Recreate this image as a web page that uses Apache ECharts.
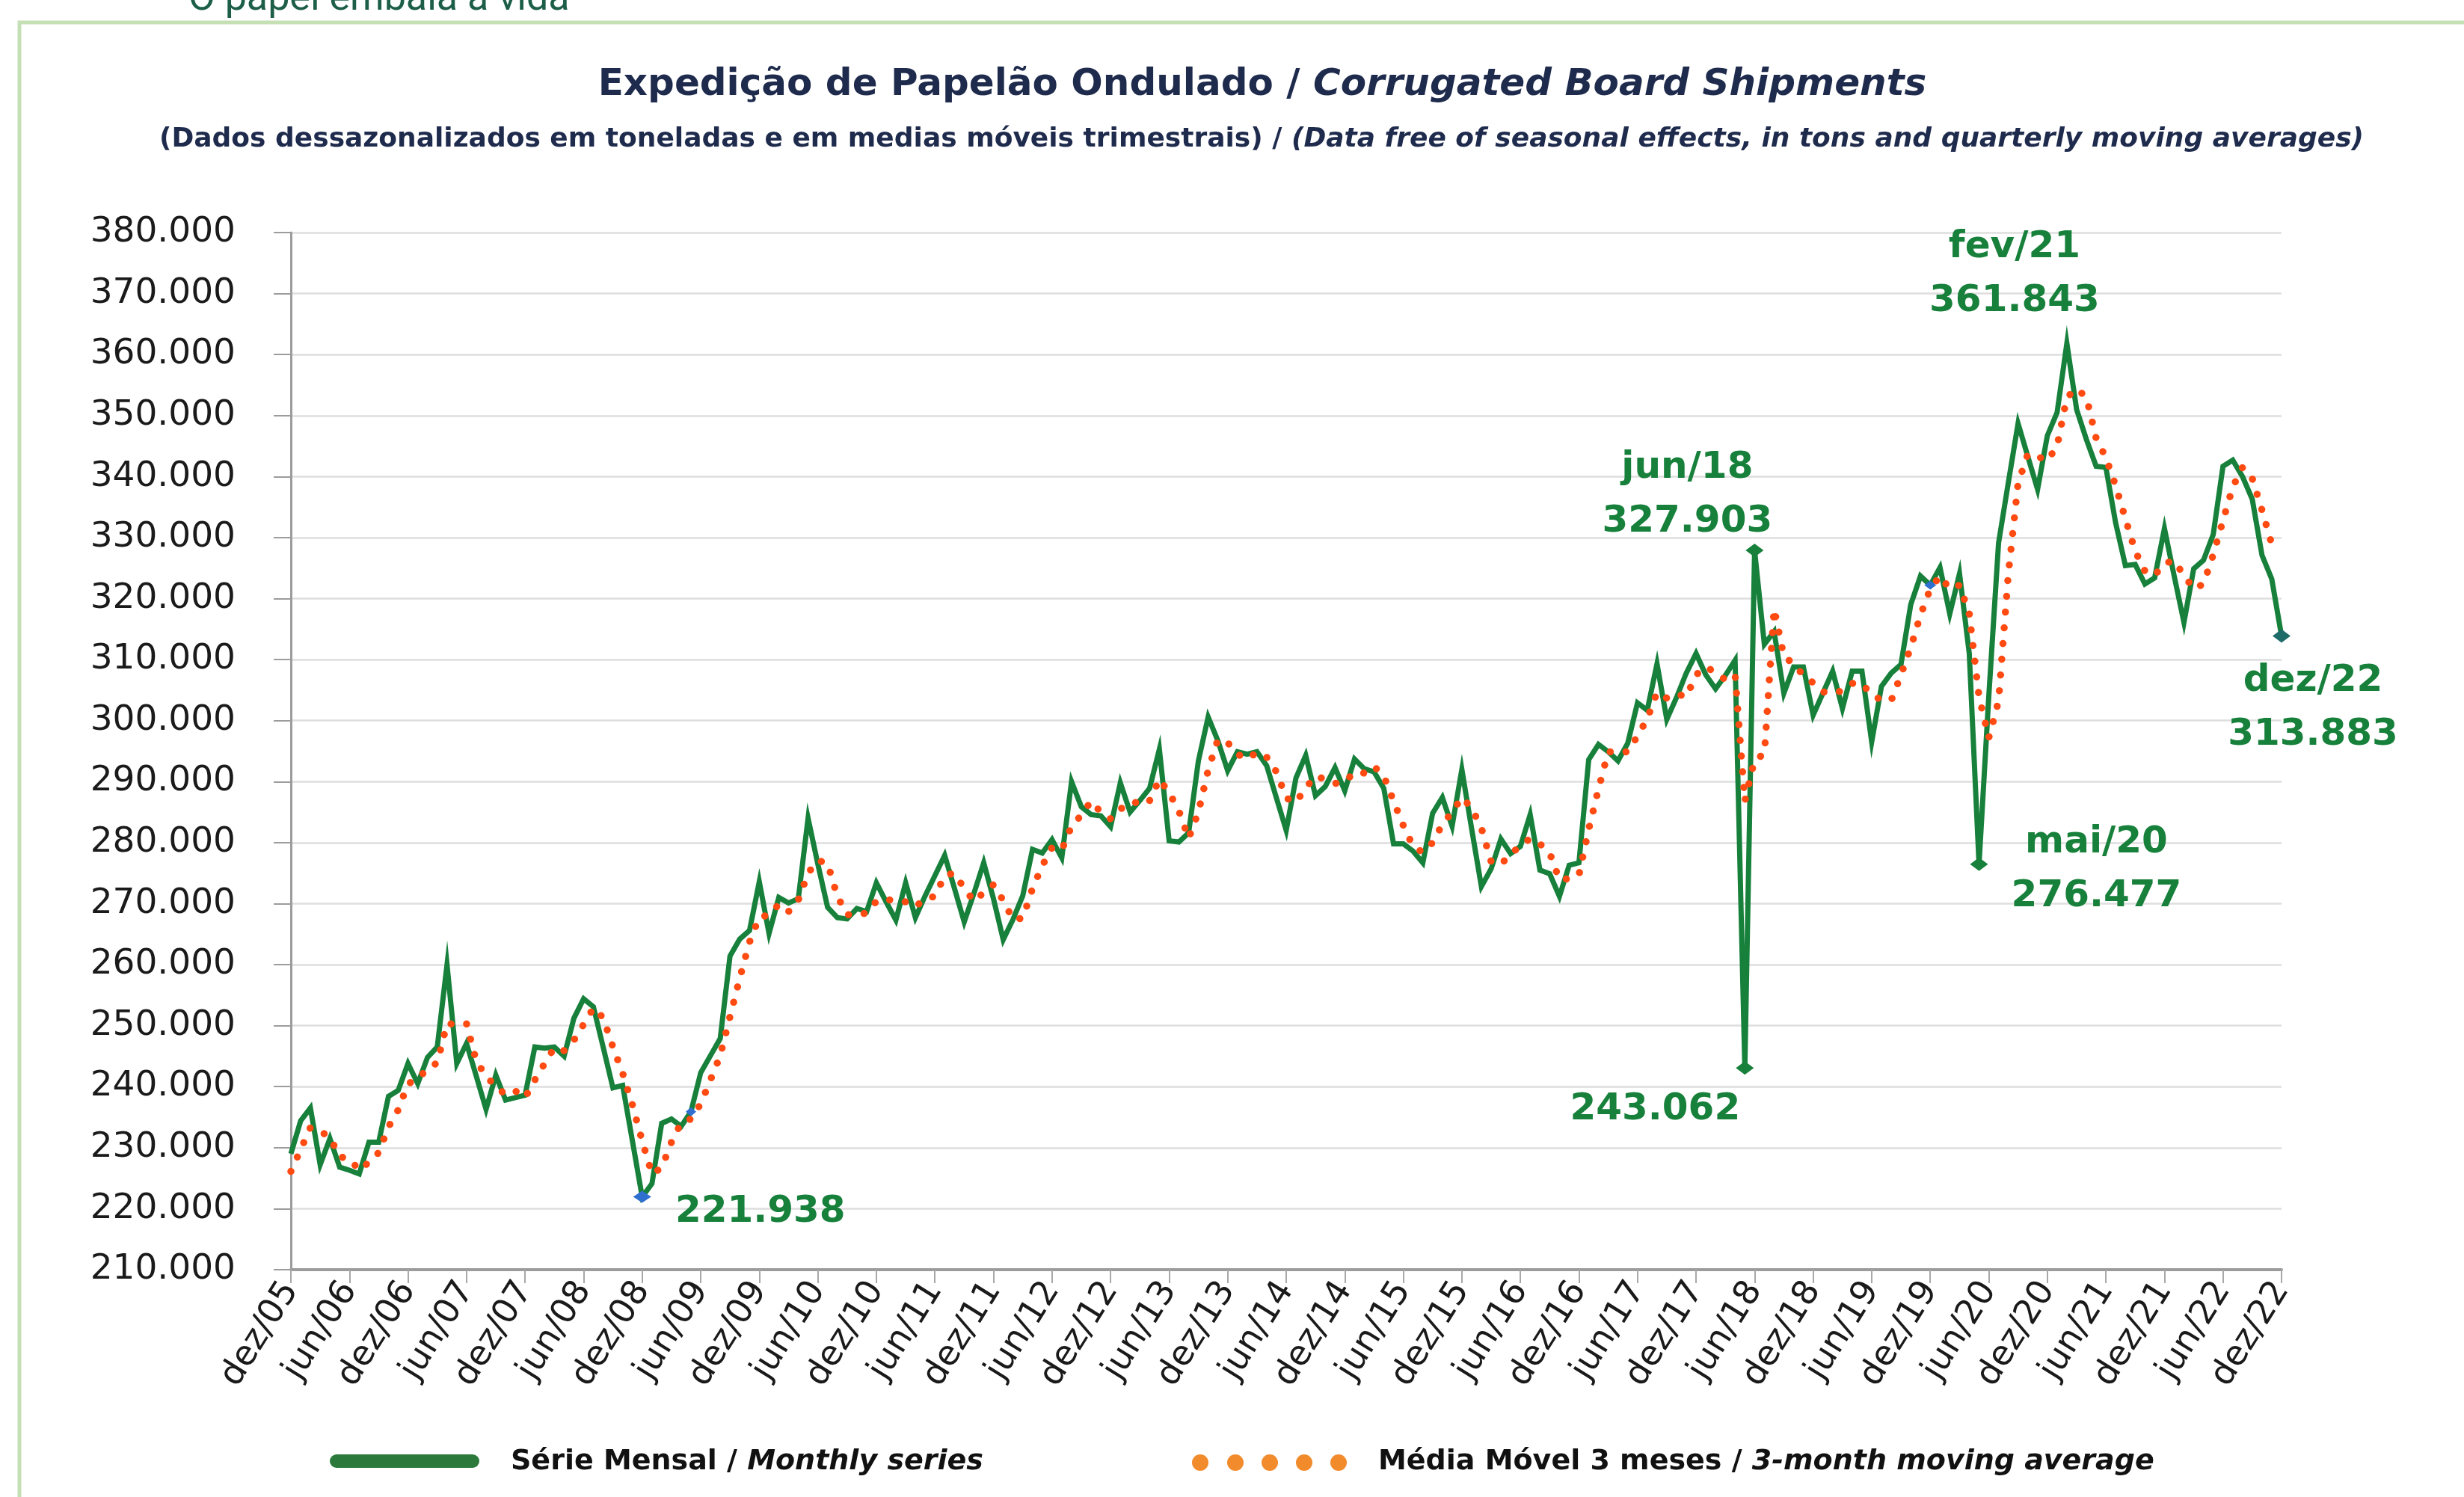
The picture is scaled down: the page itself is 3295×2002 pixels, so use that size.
<!DOCTYPE html>
<html>
<head>
    <meta charset="utf-8">
    <script src="https://cdn.jsdelivr.net/npm/echarts@6/dist/echarts.min.js"></script>
    <style>
        html, body { margin: 0; padding: 0; background: #fff; }
    </style>
</head>
<body>
    <div id="main" style="width:3295px; height:2002px;"></div>
    <script type="text/javascript">
        // months dez/05 .. dez/22, values in thousand tons
        var monthNames = ['jan', 'fev', 'mar', 'abr', 'mai', 'jun', 'jul', 'ago', 'set', 'out', 'nov', 'dez'];
        var firstYear = 2005, firstMonth = 11, monthCount = 205;

        var monthly = [
            229.0, 234.4, 236.5, 227.2, 231.5, 226.8, 226.3, 225.7, 230.9, 230.9, 238.4, 239.4,
            243.8, 240.5, 244.8, 246.5, 260.0, 243.8, 247.1, 241.7, 236.3, 241.9, 237.8, 238.2,
            238.6, 246.5, 246.3, 246.5, 245.0, 251.2, 254.4, 253.1, 246.5, 239.8, 240.2, 231.1,
            221.938, 224.1, 234.0, 234.7, 233.5, 235.9, 242.3, 245.1, 247.9, 261.4, 264.2, 265.6,
            273.6, 265.1, 271.0, 270.1, 270.8, 284.0, 276.5, 269.4, 267.7, 267.5, 269.2, 268.7,
            273.4, 270.3, 267.3, 273.4, 267.7, 271.3, 274.6, 277.9, 272.5, 267.0, 271.7, 276.7,
            270.8, 264.1, 267.4, 271.3, 278.9, 278.3, 280.5, 277.5, 290.0, 285.9, 284.6, 284.4,
            282.6, 289.8, 285.0, 286.9, 288.9, 295.3, 280.3, 280.1, 281.6, 293.4, 300.6, 296.7,
            291.8, 294.9, 294.5, 294.9, 292.6, 287.3, 282.0, 290.6, 294.3, 287.7, 289.2, 292.3,
            288.5, 293.7, 292.1, 291.6, 288.9, 279.8, 279.8, 278.6, 276.7, 284.8, 287.4, 282.7,
            292.0, 282.3, 272.8, 275.7, 280.6, 278.2, 279.4, 284.6, 275.5, 274.9, 271.2, 276.3,
            276.7, 293.6, 296.1, 294.9, 293.4, 296.3, 302.9, 301.7, 309.3, 300.2, 303.8, 307.8,
            311.0, 307.5, 305.2, 307.4, 309.9, 243.062, 327.903, 312.5, 314.6, 304.5, 308.8, 308.8,
            300.9, 304.5, 308.1, 302.0, 308.1, 308.1, 296.5, 305.6, 307.8, 309.2, 319.0, 323.7,
            322.2, 325.1, 317.5, 324.1, 311.0, 276.477, 304.0, 329.1, 339.0, 348.7, 343.3, 337.9,
            346.7, 350.5, 361.843, 351.0, 346.1, 341.7, 341.5, 332.4, 325.4, 325.6, 322.4, 323.4,
            331.5, 323.7, 316.1, 324.9, 326.3, 330.5, 341.7, 342.7, 340.0, 336.3, 327.1, 323.2,
            313.883
        ];

        var movingAvg = [
            226.1, 229.7, 233.3, 232.7, 231.7, 228.5, 228.2, 226.3, 227.6, 229.2, 233.4, 236.2,
            240.5, 241.2, 243.0, 243.9, 250.4, 250.1, 250.3, 244.2, 241.7, 240.0, 238.7, 239.3,
            238.2, 241.1, 243.8, 246.4, 245.9, 247.6, 250.2, 252.9, 251.3, 246.5, 242.2, 237.0,
            231.1, 225.7, 226.7, 230.9, 234.1, 234.7, 237.2, 241.1, 245.1, 251.5, 257.8, 263.7,
            267.8, 268.1, 269.9, 268.7, 270.6, 275.0, 277.1, 276.6, 271.2, 268.2, 268.1, 268.5,
            270.4, 270.8, 270.3, 270.3, 269.5, 270.8, 271.2, 274.6, 275.0, 272.5, 270.4, 271.8,
            273.1, 270.5, 267.4, 267.6, 272.5, 276.2, 279.2, 278.8, 282.7, 284.5, 286.8, 285.0,
            283.9, 285.6, 285.8, 287.2, 286.9, 290.4, 288.2, 285.2, 280.7, 285.0, 291.9, 296.9,
            296.4, 294.5, 293.7, 294.8, 294.0, 291.6, 287.3, 286.6, 289.0, 290.9, 290.4, 289.7,
            290.0, 291.5, 291.4, 292.5, 290.9, 286.8, 282.8, 279.4, 278.4, 280.0, 283.0, 285.0,
            287.4, 285.7, 282.4, 276.9, 276.4, 278.2, 279.4, 280.7, 279.8, 278.3, 273.9, 274.1,
            274.7, 282.2, 288.8, 294.9, 294.8, 294.9, 297.5, 300.3, 304.6, 303.7, 304.4, 303.9,
            307.5, 308.8, 307.9, 306.7, 307.5, 286.8, 293.6, 294.5, 318.3, 310.5, 309.3, 307.4,
            306.2, 304.7, 304.5, 304.9, 306.1, 306.1, 304.2, 303.4, 303.3, 307.5, 312.0, 317.3,
            321.6, 323.7, 321.6, 322.2, 317.5, 303.9, 297.2, 303.2, 324.0, 338.9, 343.7, 343.3,
            342.6, 345.0, 353.0, 354.4, 353.0, 346.3, 343.1, 338.5, 333.1, 327.8, 324.5, 323.8,
            325.8, 326.2, 323.8, 321.6, 322.4, 327.2, 332.8, 338.3, 341.5, 339.7, 334.5, 328.9,
            '-'
        ];

        // highlighted months: with date + value, value only, plain marker
        var notedWithDate = [150, 173, 182, 204];
        var notedValueOnly = [36, 149];
        var plainMarkers = [41, 168];

        var categories = [];
        for (var k = 0; k < monthCount; k++) {
            var m = (firstMonth + k) % 12;
            var y = firstYear + Math.floor((firstMonth + k) / 12);
            categories.push(monthNames[m] + '/' + String(y).slice(2));
        }

        // label layout (offsets from the point, px) and marker looks
        var labelOffset = {
            36: [158, 20], 149: [-120, 56], 150: [-90, -74],
            173: [157, 7], 182: [-70, -92], 204: [42, 97]
        };
        var markerLook = {
            36: { symbol: 'diamond', size: [24, 16], color: '#2f6fd0' },
            41: { symbol: 'diamond', size: [14, 12], color: '#2f6fd0' },
            168: { symbol: 'diamond', size: [16, 12], color: '#2f6fd0' },
            149: { symbol: 'diamond', size: [24, 18], color: '#17803b' },
            150: { symbol: 'diamond', size: [24, 18], color: '#17803b' },
            173: { symbol: 'diamond', size: [24, 18], color: '#17803b' },
            182: { symbol: 'circle', size: 2, color: 'rgba(0,0,0,0)' },
            204: { symbol: 'diamond', size: [24, 18], color: '#1f6b6a' }
        };

        var green = '#17803b';
        var noteFont = { color: green, fontSize: 50, fontWeight: 'bold', fontFamily: 'DejaVu Sans', lineHeight: 72, align: 'center' };

        function markItem(i, text) {
            var look = markerLook[i];
            var item = {
                coord: [categories[i], monthly[i]],
                symbol: look.symbol,
                symbolSize: look.size,
                itemStyle: { color: look.color },
                label: { show: false }
            };
            if (text) {
                item.label = Object.assign({ show: true, position: 'inside', offset: labelOffset[i], formatter: text }, noteFont);
            }
            return item;
        }

        var marks = [];
        notedWithDate.forEach(function (i) { marks.push(markItem(i, categories[i] + '\n' + monthly[i].toFixed(3))); });
        notedValueOnly.forEach(function (i) { marks.push(markItem(i, monthly[i].toFixed(3))); });
        plainMarkers.forEach(function (i) { marks.push(markItem(i, null)); });

        var myChart = echarts.init(document.getElementById('main'));
        var option = {
            backgroundColor: '#ffffff',
            animation: false,
            title: [{
                text: '{a|Expedição de Papelão Ondulado / }{b|Corrugated Board Shipments}',
                left: 1683, top: 84, textAlign: 'center',
                textStyle: {
                    rich: {
                        a: { fontFamily: 'DejaVu Sans', fontWeight: 'bold', fontSize: 50, color: '#1f2b4d' },
                        b: { fontFamily: 'DejaVu Sans', fontWeight: 'bold', fontStyle: 'italic', fontSize: 50, color: '#1f2b4d' }
                    }
                }
            }, {
                text: '{a|(Dados dessazonalizados em toneladas e em medias móveis trimestrais) / }{b|(Data free of seasonal effects, in tons and quarterly moving averages)}',
                left: 1682, top: 164, textAlign: 'center',
                textStyle: {
                    rich: {
                        a: { fontFamily: 'DejaVu Sans', fontWeight: 'bold', fontSize: 36, color: '#1f2b4d' },
                        b: { fontFamily: 'DejaVu Sans', fontWeight: 'bold', fontStyle: 'italic', fontSize: 36, color: '#1f2b4d' }
                    }
                }
            }],
            grid: { left: 389, right: 244, top: 311, bottom: 304, outerBoundsMode: 'none' },
            xAxis: {
                type: 'category',
                data: categories,
                boundaryGap: false,
                axisLine: { lineStyle: { color: '#9c9c9c', width: 4 } },
                axisTick: { interval: 5, length: 18, lineStyle: { color: '#a8a8a8', width: 2 } },
                axisLabel: { interval: 5, rotate: 58, margin: 20, fontFamily: 'DejaVu Sans', fontSize: 46, color: '#1a1a1a' },
                splitLine: { show: false }
            },
            yAxis: {
                type: 'value',
                min: 210, max: 380, interval: 10,
                axisLine: { show: true, lineStyle: { color: '#9c9c9c', width: 3 } },
                axisTick: { show: true, length: 23, lineStyle: { color: '#9c9c9c', width: 2 } },
                axisLabel: {
                    margin: 74, fontFamily: 'DejaVu Sans', fontSize: 47, color: '#1a1a1a',
                    formatter: function (v) { return v.toFixed(0) + '.000'; }
                },
                splitLine: { lineStyle: { color: '#dedede', width: 2.5 } }
            },
            series: [{
                name: 'Série Mensal',
                type: 'line',
                data: monthly,
                showSymbol: false,
                smooth: false,
                lineStyle: { color: green, width: 7, join: 'miter' },
                z: 2,
                markPoint: { data: marks, animation: false, z: 5 }
            }, {
                name: 'Média Móvel 3 meses',
                type: 'line',
                data: movingAvg,
                showSymbol: false,
                smooth: false,
                lineStyle: { color: '#ff4a12', width: 9.5, type: [0.1, 21], cap: 'round' },
                z: 3
            }],
            graphic: [
                { type: 'polyline', shape: { points: [[26, 2002], [26, 30], [3295, 30]] }, style: { stroke: '#c6e0b5', lineWidth: 5, fill: null } },
                { type: 'text', style: { text: 'O papel embala a vida', x: 252, y: 26, verticalAlign: 'bottom', fill: '#1d5e48', font: '52px Roboto' } },
                { type: 'rect', shape: { x: 441, y: 1945, width: 200, height: 18, r: 9 }, style: { fill: '#2b7a3c' } },
                {
                    type: 'text', style: {
                        x: 683, y: 1955, verticalAlign: 'middle',
                        text: '{a|Série Mensal / }{b|Monthly series}',
                        rich: {
                            a: { fontFamily: 'DejaVu Sans', fontWeight: 'bold', fontSize: 38, fill: '#111' },
                            b: { fontFamily: 'DejaVu Sans', fontWeight: 'bold', fontStyle: 'italic', fontSize: 38, fill: '#111' }
                        }
                    }
                },
                { type: 'circle', shape: { cx: 1605, cy: 1956, r: 11 }, style: { fill: '#f28b2c' } },
                { type: 'circle', shape: { cx: 1652, cy: 1956, r: 11 }, style: { fill: '#f28b2c' } },
                { type: 'circle', shape: { cx: 1698, cy: 1956, r: 11 }, style: { fill: '#f28b2c' } },
                { type: 'circle', shape: { cx: 1744, cy: 1956, r: 11 }, style: { fill: '#f28b2c' } },
                { type: 'circle', shape: { cx: 1790, cy: 1956, r: 11 }, style: { fill: '#f28b2c' } },
                {
                    type: 'text', style: {
                        x: 1843, y: 1955, verticalAlign: 'middle',
                        text: '{a|Média Móvel 3 meses / }{b|3-month moving average}',
                        rich: {
                            a: { fontFamily: 'DejaVu Sans', fontWeight: 'bold', fontSize: 38, fill: '#111' },
                            b: { fontFamily: 'DejaVu Sans', fontWeight: 'bold', fontStyle: 'italic', fontSize: 38, fill: '#111' }
                        }
                    }
                }
            ]
        };
        myChart.setOption(option);
    </script>
</body>
</html>
